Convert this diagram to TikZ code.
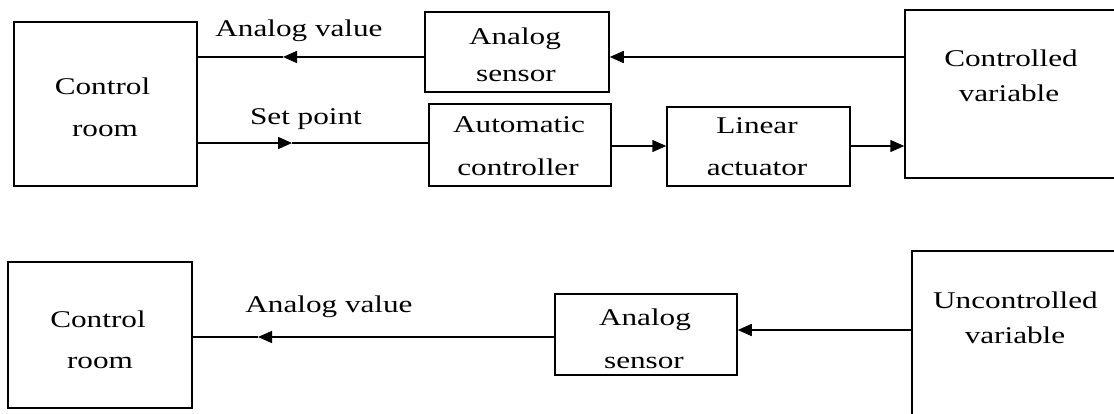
\documentclass[tikz,border=0pt]{standalone}
\usepackage{fontspec}
\setmainfont{Liberation Serif}[FakeStretch=1.3]
\usetikzlibrary{arrows.meta}

\begin{document}
\begin{tikzpicture}[x=1pt, y=-1pt,
  blk/.style={draw, line width=1.5pt, inner sep=0pt, rectangle},
  lbl/.style={anchor=base, inner sep=0pt, font=\fontsize{24}{28}\selectfont},
  wire/.style={line width=1.5pt},
  tip/.style={wire, -{Triangle[length=14pt, width=12pt]}}]
  \useasboundingbox (0,0) rectangle (1114,414);
  \clip (0,0) rectangle (1114,414);

  % ---------- upper loop: controlled variable ----------
  \node[blk, minimum width=183pt, minimum height=164pt] (cr1) at (105.5,104) {};
  \node[blk, minimum width=184pt, minimum height=80pt]  (as1) at (517,52) {};
  \node[blk, minimum width=182pt, minimum height=82pt]  (ac)  at (520,145) {};
  \node[blk, minimum width=183pt, minimum height=79pt]  (la)  at (758.5,146.5) {};
  \node[blk, minimum width=215pt, minimum height=168pt] (cv)  at (1012.5,94) {};

  \node[lbl] (cr1a) at (102.5,95)  {Control};
  \node[lbl] (cr1b) at (105,137)   {room};
  \node[lbl] (as1a) at (515,45)    {Analog};
  \node[lbl] (as1b) at (516,82)    {sensor};
  \node[lbl] (aca)  at (519,133)   {Automatic};
  \node[lbl] (acb)  at (518,176)   {controller};
  \node[lbl] (laa)  at (757,134)   {Linear};
  \node[lbl] (lab)  at (757,176)   {actuator};
  \node[lbl] (cva)  at (1011,67)   {Controlled};
  \node[lbl] (cvb)  at (1009,102)  {variable};

  \node[lbl] (av1) at (299,37)  {Analog value};
  \node[lbl] (sp)  at (306,125) {Set point};

  \coordinate (m1) at (283,57);
  \coordinate (m2) at (292,143);
  \coordinate (r1) at (0,146);

  \draw[tip]  (cv.west |- m1) -- (as1.east |- m1);
  \draw[tip]  (as1.west |- m1) -- (m1);
  \draw[wire] (m1) -- (cr1.east |- m1);
  \draw[tip]  (cr1.east |- m2) -- (m2);
  \draw[wire] (m2) -- (ac.west |- m2);
  \draw[tip]  (ac.east |- r1) -- (la.west |- r1);
  \draw[tip]  (la.east |- r1) -- (cv.west |- r1);

  % ---------- lower loop: uncontrolled variable ----------
  \node[blk, minimum width=184pt, minimum height=146pt] (cr2) at (100,335) {};
  \node[blk, minimum width=182pt, minimum height=81pt]  (as2) at (646,334.5) {};
  \node[blk, minimum width=210pt, minimum height=179pt] (uv)  at (1017,340.5) {};

  \node[lbl] (cr2a) at (98,327)   {Control};
  \node[lbl] (cr2b) at (100,368)  {room};
  \node[lbl] (as2a) at (645,325)  {Analog};
  \node[lbl] (as2b) at (644,368)  {sensor};
  \node[lbl] (uva)  at (1015.5,308) {Uncontrolled};
  \node[lbl] (uvb)  at (1015,343) {variable};

  \node[lbl] (av2) at (329,312) {Analog value};

  \coordinate (m3) at (258,337);
  \coordinate (r2) at (0,330);

  \draw[tip]  (uv.west |- r2) -- (as2.east |- r2);
  \draw[tip]  (as2.west |- m3) -- (m3);
  \draw[wire] (m3) -- (cr2.east |- m3);
\end{tikzpicture}
\end{document}
